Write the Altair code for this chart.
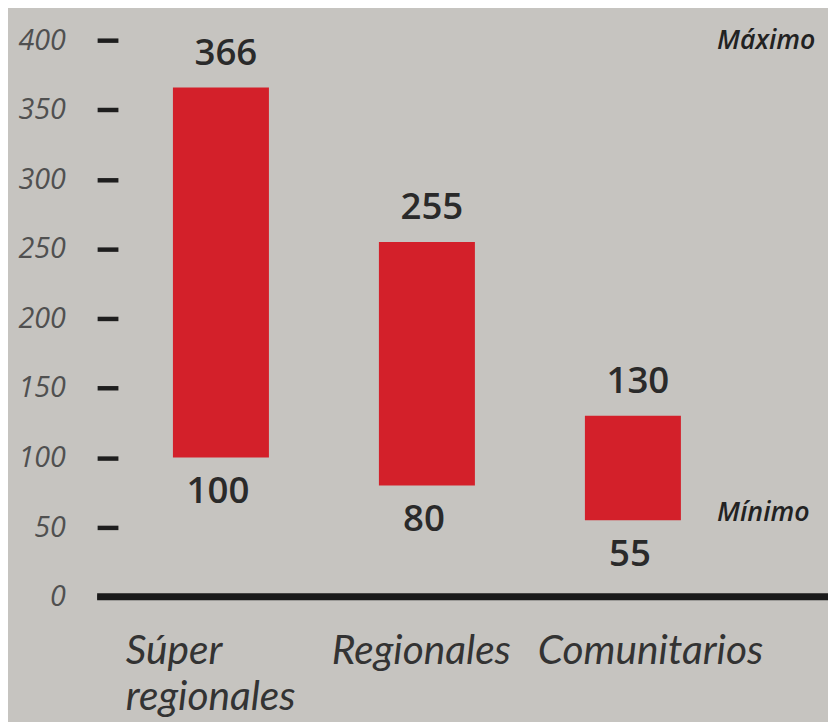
import altair as alt
import pandas as pd

categories = ["Súper regionales", "Regionales", "Comunitarios"]
label_lines = [["Súper", "regionales"], ["Regionales"], ["Comunitarios"]]
maximo = [366, 255, 130]
minimo = [100, 80, 55]
y_ticks = [0, 50, 100, 150, 200, 250, 300, 350, 400]
notes = ["Máximo", "Mínimo"]
note_levels = [399, 60]

df = pd.DataFrame({"cat": categories, "max": maximo, "min": minimo, "lines": label_lines})

RED = "#d3202a"
DARK = "#2a2a2a"
BG = "#c6c4c0"
W, H = 738, 562

xscale = alt.Scale(domain=categories, range=[21, 645], paddingInner=0.534, paddingOuter=0.267)
xenc = alt.X("cat:N", sort=categories, scale=xscale, axis=None)
yscale = alt.Scale(domain=[0, 400], nice=False)

base = alt.Chart(df)

bars = base.mark_bar(color=RED).encode(
    x=xenc,
    y=alt.Y("max:Q", scale=yscale, title=None,
            axis=alt.Axis(values=y_ticks, orient="left", offset=-21, tickSize=21, tickWidth=4.5,
                          tickColor="#1e1e1e", domain=False, grid=False, labelPadding=32,
                          labelFont="Open Sans", labelFontStyle="italic", labelFontSize=29,
                          labelColor="#505050", labelAlign="right", labelBaseline="middle")),
    y2="min:Q",
)

top_text = base.mark_text(font="Open Sans", fontWeight=600, fontSize=37, color=DARK,
                          baseline="alphabetic", dy=-23, dx=5).encode(
    x=xenc, y=alt.Y("max:Q", scale=yscale), text="max:Q")

bot_text = base.mark_text(font="Open Sans", fontWeight=600, fontSize=37, color=DARK,
                          baseline="alphabetic", dy=46, dx=-3).encode(
    x=xenc, y=alt.Y("min:Q", scale=yscale), text="min:Q")

cat_text = base.mark_text(font="Lato", fontStyle="italic", fontSize=41, color="#333333",
                          align="left", baseline="alphabetic", dx=-96, lineHeight=46).encode(
    x=xenc, y=alt.value(630), text="lines")

baseline = alt.Chart(pd.DataFrame({"v": [0]})).mark_rule(color="#1a1a1a", strokeWidth=7).encode(
    y=alt.Y("v:Q", scale=yscale), x=alt.value(0), x2=alt.value(W))

ann = pd.DataFrame({"t": notes, "v": note_levels})
ann_text = alt.Chart(ann).mark_text(font="Open Sans", fontWeight=600, fontStyle="italic", fontSize=27,
                                    color="#222222", align="left", baseline="middle").encode(
    x=alt.value(626), y=alt.Y("v:Q", scale=yscale), text="t:N")

chart = alt.layer(bars, baseline, top_text, bot_text, cat_text, ann_text).properties(
    width=W, height=H,
    autosize=alt.AutoSizeParams(type="none"),
    padding={"left": 90, "top": 29, "right": 0, "bottom": 123},
    background=BG,
).configure_view(stroke=None)

chart.save("out.html", embed_options={"renderer": "svg", "actions": False})
